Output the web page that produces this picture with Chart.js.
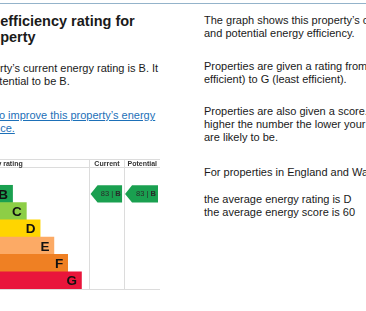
<!DOCTYPE html>
<html>
<head>
<meta charset="utf-8">
<script src="https://cdn.jsdelivr.net/npm/chart.js@4.4.0/dist/chart.umd.min.js"></script>
<style>
    html, body { margin: 0; padding: 0; background: #fff; }
    body {
        width: 366px; height: 311px; overflow: hidden; position: relative;
        font-family: "Liberation Sans", Arial, sans-serif; color: #1a1a1a;
    }
    .rule { position: absolute; left: 0; top: 3px; width: 366px; height: 1px; background: #94b3ca; }
    .t { position: absolute; white-space: nowrap; font-size: 11px; line-height: 13px; }
    .title { font-weight: bold; font-size: 14.5px; line-height: 16px; }
    a { color: #1d70b8; text-decoration: underline; }
    #chartBox { position: absolute; left: -15px; top: 159px; width: 175px; height: 131px; }
</style>
</head>
<body>
<div class="rule"></div>

<!-- left column, cut off at the page edge -->
<div class="t title" style="left:-53px; top:13px;">Energy efficiency rating for<br>this property</div>
<div class="t" style="left:-52px; top:62px;">This property’s current energy rating is B. It<br>has the potential to be B.</div>
<div class="t" style="left:-50px; top:109px;"><a href="#">See how to improve this property’s energy<br>performance.</a></div>

<div id="chartBox"><canvas id="epcChart"></canvas></div>

<!-- right column -->
<div class="t" style="left:204px; top:14px;">The graph shows this property’s current<br>and potential energy efficiency.</div>
<div class="t" style="left:204px; top:60px;">Properties are given a rating from A (most<br>efficient) to G (least efficient).</div>
<div class="t" style="left:204px; top:105px;">Properties are also given a score. The<br>higher the number the lower your fuel bills<br>are likely to be.</div>
<div class="t" style="left:204px; top:166px;">For properties in England and Wales:</div>
<div class="t" style="left:204px; top:193px;">the average energy rating is D<br>the average energy score is 60</div>

<script>
// Rating bands, shortest bar (A) to longest (G)
const ratings = ['A', 'B', 'C', 'D', 'E', 'F', 'G'];
const bandLength = [1, 2, 3, 4, 5, 6, 7];
const bandColors = ['#008054', '#1aa050', '#8dce46', '#ffd500', '#fcaa65', '#ef8023', '#e9153b'];

const columnLabels = ['Energy rating', 'Current', 'Potential'];
const currentRating = 'B';
const currentScore = 83;
const potentialRating = 'B';
const potentialScore = 83;

// column edges on the x scale
const ratingColEnd = 7.55;
const currentColEnd = 10.09;
const xMax = 12.7;

function drawArrow(ctx, left, right, cy, h, score, rating, color) {
    const top = cy - h / 2, bottom = cy + h / 2, tip = 7;
    ctx.fillStyle = color;
    ctx.beginPath();
    ctx.moveTo(left, cy);
    ctx.lineTo(left + tip, top);
    ctx.lineTo(right, top);
    ctx.lineTo(right, bottom);
    ctx.lineTo(left + tip, bottom);
    ctx.closePath();
    ctx.fill();

    const first = score + ' | ';
    ctx.font = '7.5px "Liberation Sans", Arial, sans-serif';
    const w1 = ctx.measureText(first).width;
    ctx.font = 'bold 7.5px "Liberation Sans", Arial, sans-serif';
    const w2 = ctx.measureText(rating).width;
    let x = (left + tip + right) / 2 + 1 - (w1 + w2) / 2;
    ctx.fillStyle = '#2a2a2a';
    ctx.textAlign = 'left';
    ctx.textBaseline = 'middle';
    ctx.font = '7.5px "Liberation Sans", Arial, sans-serif';
    ctx.fillText(first, x, cy + 0.5);
    ctx.font = 'bold 7.5px "Liberation Sans", Arial, sans-serif';
    ctx.fillText(rating, x + w1, cy + 0.5);
}

const epcPlugin = {
    id: 'epcGrid',
    beforeDatasetsDraw(chart) {
        const { ctx, chartArea, scales: { x } } = chart;
        const c1 = Math.round(x.getPixelForValue(ratingColEnd)) + 0.5;
        const c2 = Math.round(x.getPixelForValue(currentColEnd)) + 0.5;
        ctx.save();
        ctx.strokeStyle = '#dcdcdc';
        ctx.lineWidth = 1;
        ctx.beginPath();
        ctx.moveTo(0, 0.5); ctx.lineTo(chartArea.right, 0.5);
        ctx.moveTo(0, chartArea.top - 0.5); ctx.lineTo(chartArea.right, chartArea.top - 0.5);
        ctx.moveTo(0, chartArea.bottom + 0.5); ctx.lineTo(chartArea.right, chartArea.bottom + 0.5);
        ctx.moveTo(c1, 0); ctx.lineTo(c1, chartArea.bottom);
        ctx.moveTo(c2, 0); ctx.lineTo(c2, chartArea.bottom);
        ctx.stroke();

        // header row
        const hy = chartArea.top / 2 + 0.5;
        ctx.fillStyle = '#333';
        ctx.textBaseline = 'middle';
        ctx.font = 'bold 7px "Liberation Sans", Arial, sans-serif';
        ctx.textAlign = 'right';
        ctx.fillText(columnLabels[0], c1 - 66.8, hy);
        ctx.textAlign = 'center';
        ctx.fillText(columnLabels[1], (c1 + c2) / 2, hy);
        ctx.fillText(columnLabels[2], (c2 + chartArea.right) / 2, hy);
        ctx.restore();
    },
    afterDatasetsDraw(chart) {
        const { ctx, chartArea, scales: { x, y } } = chart;
        const meta = chart.getDatasetMeta(0);
        ctx.save();
        ctx.font = 'bold 13.5px "Liberation Sans", Arial, sans-serif';
        ctx.fillStyle = '#111';
        ctx.textAlign = 'right';
        ctx.textBaseline = 'middle';
        meta.data.forEach((bar, i) => {
            ctx.fillText(ratings[i], bar.x - 4.5, bar.y + 1);
        });

        const rowH = (chartArea.bottom - chartArea.top) / ratings.length;
        const c1 = x.getPixelForValue(ratingColEnd);
        const c2 = x.getPixelForValue(currentColEnd);
        const cRow = ratings.indexOf(currentRating);
        const pRow = ratings.indexOf(potentialRating);
        drawArrow(ctx, c1 + 1.5, c2 - 2, y.getPixelForValue(cRow), rowH, currentScore, currentRating, bandColors[cRow]);
        drawArrow(ctx, c2 + 1, chartArea.right - 2, y.getPixelForValue(pRow), rowH, potentialScore, potentialRating, bandColors[pRow]);
        ctx.restore();
    }
};

new Chart(document.getElementById('epcChart'), {
    type: 'bar',
    data: {
        labels: ratings,
        datasets: [{
            data: bandLength,
            backgroundColor: bandColors,
            borderWidth: 0,
            categoryPercentage: 1,
            barPercentage: 1
        }]
    },
    options: {
        indexAxis: 'y',
        responsive: true,
        maintainAspectRatio: false,
        animation: false,
        events: [],
        layout: { padding: { top: 9, bottom: 1, left: 0, right: 0 } },
        scales: {
            x: { type: 'linear', min: 0, max: xMax, display: false },
            y: { type: 'category', display: false, offset: true }
        },
        plugins: {
            legend: { display: false },
            tooltip: { enabled: false }
        }
    },
    plugins: [epcPlugin]
});
</script>
</body>
</html>
